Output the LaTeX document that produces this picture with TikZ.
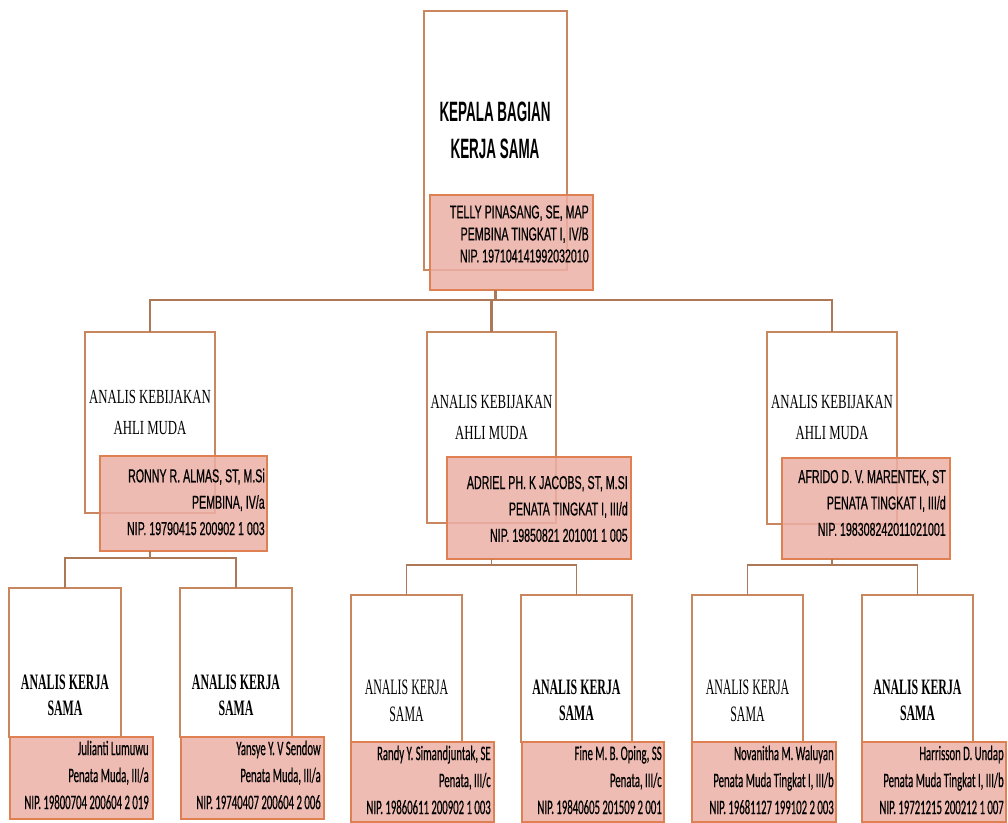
\documentclass[tikz,border=0pt]{standalone}
\usepackage{fontspec}
\setmainfont{Liberation Serif}
\newfontfamily\titlefont[FakeStretch=0.48]{Liberation Sans}
\newfontfamily\capsfont[FakeStretch=0.57,FakeBold=0.6]{Liberation Sans}
\newfontfamily\condserif[FakeStretch=0.64]{Liberation Serif}
\newfontfamily\narrowserif[FakeStretch=0.54]{Liberation Serif}
\newfontfamily\roundfont[FakeStretch=0.52,FakeBold=0.4]{Carlito}
\definecolor{boxline}{RGB}{200,135,95}
\definecolor{pinkfill}{RGB}{236,176,166}
\definecolor{pinkline}{RGB}{222,128,82}
\definecolor{connline}{RGB}{172,120,88}
\begin{document}
\begin{tikzpicture}[x=0.75pt,y=-0.75pt,
  wbox/.style={draw=boxline, line width=1.1pt, fill=white, inner sep=0pt, outer sep=0pt},
  pbox/.style={draw=pinkline, line width=1.3pt, fill=pinkfill, fill opacity=0.85, inner sep=0pt, outer sep=0pt},
  conn/.style={draw=connline, line width=1pt},
  topconn/.style={draw=connline, line width=1.6pt},
  headtxt/.style={align=center, inner sep=0pt, font={\titlefont\bfseries\fontsize{21}{27.75}\selectfont}},
  toppink/.style={align=right, anchor=east, inner sep=0pt, font={\capsfont\fontsize{14}{16.5}\selectfont}},
  midpink/.style={align=right, anchor=east, inner sep=0pt, font={\capsfont\fontsize{14}{19.8}\selectfont}},
  midtxt/.style={align=center, inner sep=0pt, font={\condserif\fontsize{15}{23.25}\selectfont}},
  lowbold/.style={align=center, inner sep=0pt, font={\narrowserif\bfseries\fontsize{16.5}{19.5}\selectfont}},
  lowreg/.style={align=center, inner sep=0pt, font={\narrowserif\fontsize{16.5}{20.25}\selectfont}},
  lowpink/.style={align=right, anchor=east, inner sep=0pt, font={\roundfont\fontsize{15.5}{20.25}\selectfont}}
]
\useasboundingbox (0,0) rectangle (1008,823);

% ---- boxes ----
\node[wbox, minimum width=107.25pt, minimum height=194.25pt] (w0) at (495.5,140.5) {};
\node[wbox, minimum width=97.5pt, minimum height=135.75pt] (w1) at (150,422.5) {};
\node[wbox, minimum width=96.75pt, minimum height=143.25pt] (w2) at (491.5,427.5) {};
\node[wbox, minimum width=97.5pt, minimum height=144pt] (w3) at (832,428) {};
\node[wbox, minimum width=84pt, minimum height=111.75pt] (b1) at (65,662.5) {};
\node[wbox, minimum width=84pt, minimum height=111.75pt] (b2) at (236,662.5) {};
\node[wbox, minimum width=83.25pt, minimum height=110.25pt] (b3) at (406.5,668.5) {};
\node[wbox, minimum width=83.25pt, minimum height=110.25pt] (b4) at (576.5,668.5) {};
\node[wbox, minimum width=83.25pt, minimum height=110.25pt] (b5) at (747.5,668.5) {};
\node[wbox, minimum width=83.25pt, minimum height=110.25pt] (b6) at (917.5,668.5) {};

\node[pbox, minimum width=122.25pt, minimum height=71.25pt] (p0) at (511.5,242.5) {};
\node[pbox, minimum width=125.25pt, minimum height=71.25pt] (p1) at (183.5,503.5) {};
\node[pbox, minimum width=138pt, minimum height=76.5pt] (p2) at (539,508) {};
\node[pbox, minimum width=126pt, minimum height=75.75pt] (p3) at (866,508.5) {};
\node[pbox, minimum width=107.25pt, minimum height=61.5pt] (q1) at (81.5,778) {};
\node[pbox, minimum width=107.25pt, minimum height=61.5pt] (q2) at (252.5,778) {};
\node[pbox, minimum width=107.25pt, minimum height=60pt] (q3) at (422.5,782) {};
\node[pbox, minimum width=106.5pt, minimum height=60pt] (q4) at (593,782) {};
\node[pbox, minimum width=108pt, minimum height=60pt] (q5) at (764,782) {};
\node[pbox, minimum width=108pt, minimum height=60pt] (q6) at (934,782) {};

% ---- connectors ----
\draw[topconn] (p0.south -| w0.north) -- ++(0,10) -| (w1.north);
\draw[topconn] (p0.south -| w0.north) -- ++(0,10) -| (w2.north);
\draw[topconn] (p0.south -| w0.north) -- ++(0,10) -| (w3.north);
\draw[conn] (p1.south -| w1.north) -- ++(0,7) -| (b1.north);
\draw[conn] (p1.south -| w1.north) -- ++(0,7) -| (b2.north);
\draw[conn] (p2.south -| w2.north) -- ++(0,6) -| (b3.north);
\draw[conn] (p2.south -| w2.north) -- ++(0,6) -| (b4.north);
\draw[conn] (p3.south -| w3.north) -- ++(0,6) -| (b5.north);
\draw[conn] (p3.south -| w3.north) -- ++(0,6) -| (b6.north);

% ---- texts ----
\node[headtxt] (t0) at (495,130.5) {KEPALA BAGIAN\\KERJA SAMA};
\node[toppink] (n0) at (589,234) {TELLY PINASANG, SE, MAP\\PEMBINA TINGKAT I, IV/B\\NIP. 197104141992032010};

\node[midtxt] (t1) at (150,412.5) {ANALIS KEBIJAKAN\\AHLI MUDA};
\node[midtxt] (t2) at (491.5,417) {ANALIS KEBIJAKAN\\AHLI MUDA};
\node[midtxt] (t3) at (832,417) {ANALIS KEBIJAKAN\\AHLI MUDA};
\node[midpink] (n1) at (265,502) {RONNY R. ALMAS, ST, M.Si\\PEMBINA, IV/a\\NIP. 19790415 200902 1 003};
\node[midpink] (n2) at (628,509) {ADRIEL PH. K JACOBS, ST, M.SI\\PENATA TINGKAT I, III/d\\NIP. 19850821 201001 1 005};
\node[midpink] (n3) at (946,503) {AFRIDO D. V. MARENTEK, ST\\PENATA TINGKAT I, III/d\\NIP. 198308242011021001};

\node[lowbold] (s1) at (65,695) {ANALIS KERJA\\SAMA};
\node[lowbold] (s2) at (236,695) {ANALIS KERJA\\SAMA};
\node[lowreg]  (s3) at (406.5,701) {ANALIS KERJA\\SAMA};
\node[lowbold] (s4) at (576.5,700) {ANALIS KERJA\\SAMA};
\node[lowreg]  (s5) at (747.5,701) {ANALIS KERJA\\SAMA};
\node[lowbold] (s6) at (917.5,700) {ANALIS KERJA\\SAMA};

\node[lowpink] (m1) at (149,775) {Julianti Lumuwu\\Penata Muda, III/a\\NIP. 19800704 200604 2 019};
\node[lowpink] (m2) at (321,775) {Yansye Y. V Sendow\\Penata Muda, III/a\\NIP. 19740407 200604 2 006};
\node[lowpink] (m3) at (491,780) {Randy Y. Simandjuntak, SE\\Penata, III/c\\NIP. 19860611 200902 1 003};
\node[lowpink] (m4) at (662,780) {Fine M. B. Oping, SS\\Penata, III/c\\NIP. 19840605 201509 2 001};
\node[lowpink] (m5) at (834,780) {Novanitha M. Waluyan\\Penata Muda Tingkat I, III/b\\NIP. 19681127 199102 2 003};
\node[lowpink] (m6) at (1004,780) {Harrisson D. Undap\\Penata Muda Tingkat I, III/b\\NIP. 19721215 200212 1 007};
\end{tikzpicture}
\end{document}
